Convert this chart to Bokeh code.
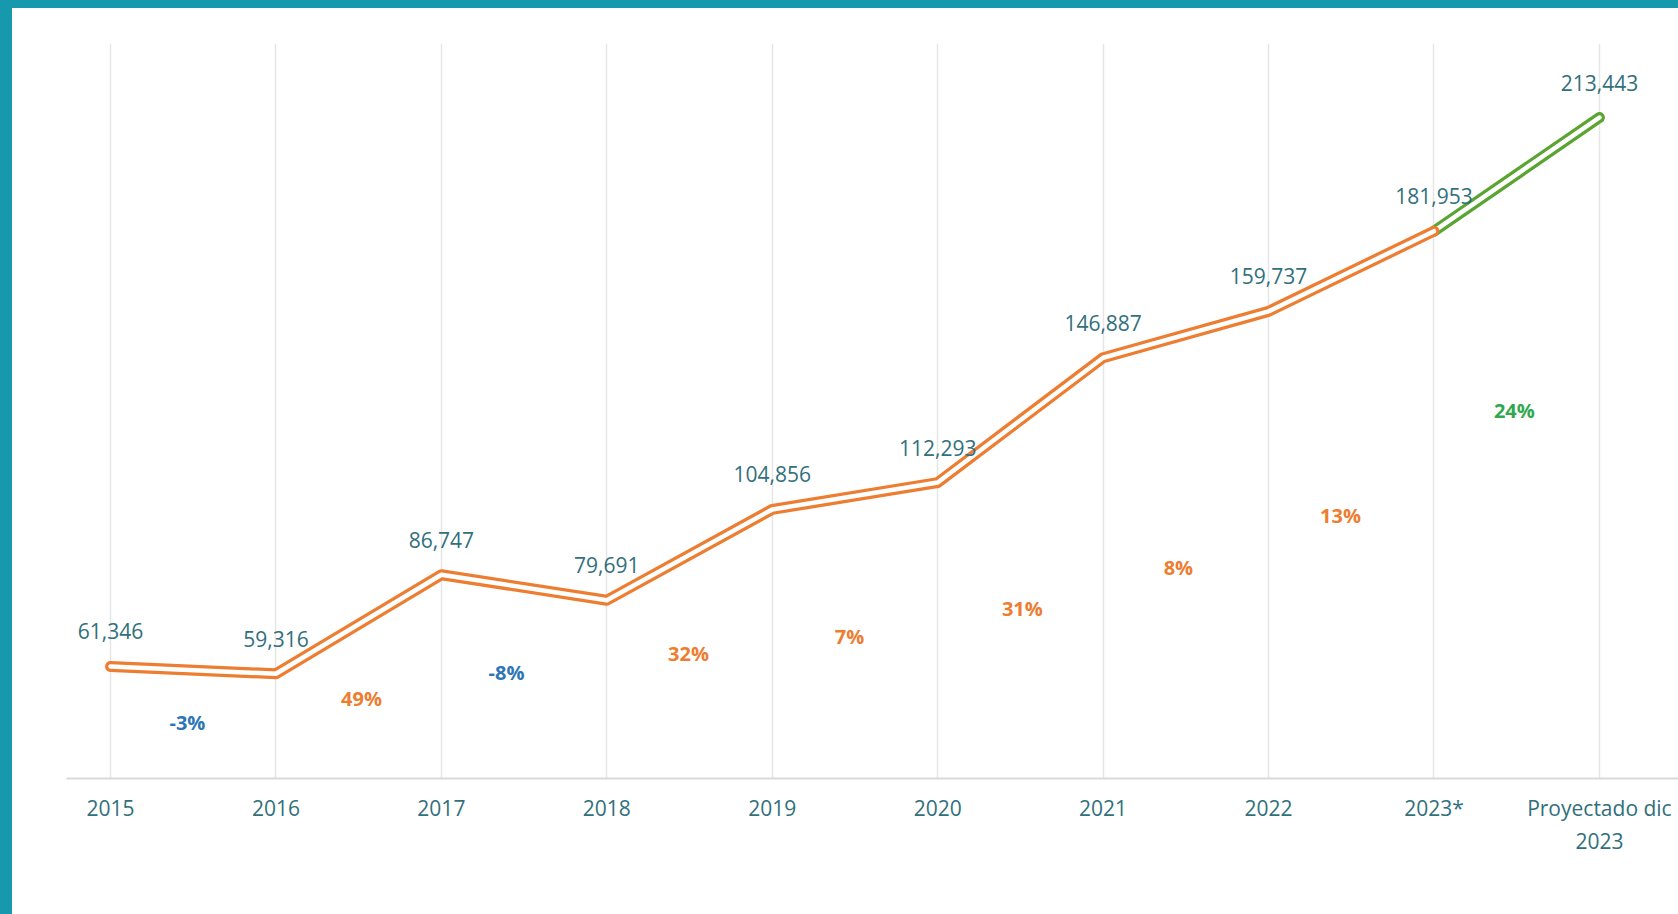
from bokeh.plotting import figure
from bokeh.models import ColumnDataSource, LabelSet, FixedTicker, Range1d, Div
from bokeh.layouts import column, row
from bokeh.core.properties import value
from bokeh.embed import file_html
from bokeh.resources import INLINE

# ---- data ----
categories = ["2015", "2016", "2017", "2018", "2019", "2020", "2021", "2022", "2023*", "Proyectado dic\n2023"]
values = [61346, 59316, 86747, 79691, 104856, 112293, 146887, 159737, 181953, 213443]
value_labels = ["61,346", "59,316", "86,747", "79,691", "104,856", "112,293", "146,887", "159,737", "181,953", "213,443"]

pct_labels = ["-3%", "49%", "-8%", "32%", "7%", "31%", "8%", "13%", "24%"]
pct_kind = ["neg", "pos", "neg", "pos", "pos", "pos", "pos", "pos", "proj"]
# label anchor positions (category index units, value units)
pct_pos_x = [0.465, 1.517, 2.394, 3.494, 4.467, 5.512, 6.455, 7.435, 8.486]
pct_pos_y = [45830, 52480, 59680, 64950, 69660, 77420, 88770, 103180, 132270]

# ---- styles ----
ORANGE = "#ED7D31"
GREEN = "#5AA532"
TEXT = "#31707C"
BLUE = "#2E75B6"
GREEN_TXT = "#2FA84F"
TEAL = "#1699AD"
FONT = "Open Sans"
kind_color = {"neg": BLUE, "pos": ORANGE, "proj": GREEN_TXT}

idx = list(range(len(categories)))
n_hist = 9  # points through 2023*

p = figure(width=1666, height=906, output_backend="svg", toolbar_location=None,
           x_range=Range1d(-0.266, 9.478), y_range=Range1d(30300, 233950),
           min_border_left=54, min_border_right=0, min_border_top=35, min_border_bottom=136)
p.outline_line_color = None
p.background_fill_color = "white"
p.border_fill_color = "white"

# axes
p.yaxis.visible = False
p.ygrid.grid_line_color = None
p.xaxis.ticker = FixedTicker(ticks=idx)
p.xaxis.major_label_overrides = {i: c for i, c in zip(idx, categories)}
p.xaxis.major_tick_line_color = None
p.xaxis.minor_tick_line_color = None
p.xaxis.axis_line_color = "#D9D9D9"
p.xaxis.axis_line_width = 2
p.xaxis.major_label_text_font = FONT
p.xaxis.major_label_text_font_size = "21px"
p.xaxis.major_label_text_color = TEXT
p.xaxis.major_label_standoff = 9
p.xgrid.ticker = FixedTicker(ticks=idx)
p.xgrid.grid_line_color = "#E6E6E6"
p.xgrid.grid_line_width = 1.5

# projected (green) segment, double line
gx = idx[n_hist - 1:]
gy = values[n_hist - 1:]
p.line(gx, gy, line_color=GREEN, line_width=11, line_cap="round", line_join="round")
p.line(gx, gy, line_color="white", line_width=4.5, line_cap="round", line_join="round")

# historic (orange) series, double line
hx = idx[:n_hist]
hy = values[:n_hist]
p.line(hx, hy, line_color=ORANGE, line_width=11, line_cap="round", line_join="round")
p.line(hx, hy, line_color="white", line_width=4.5, line_cap="round", line_join="round")

# value labels
src = ColumnDataSource(dict(x=idx, y=values, t=value_labels))
p.add_layout(LabelSet(x="x", y="y", text="t", source=src, y_offset=35,
                      text_align="center", text_baseline="middle",
                      text_font=value(FONT), text_font_size="21px", text_color=TEXT))

# percent change labels
psrc = ColumnDataSource(dict(x=pct_pos_x, y=pct_pos_y, t=pct_labels,
                             c=[kind_color[k] for k in pct_kind]))
p.add_layout(LabelSet(x="x", y="y", text="t", source=psrc,
                      text_align="center", text_baseline="middle",
                      text_font=value(FONT), text_font_size="20px", text_font_style="bold",
                      text_color="c"))

# teal frame bands (top and left) of the slide
top_band = Div(text="", width=1678, height=8, margin=0,
               styles={"background-color": TEAL})
left_band = Div(text="", width=12, height=906, margin=0,
                styles={"background-color": TEAL})
layout = column(top_band, row(left_band, p, spacing=0), spacing=0)

open("out.html", "w").write(file_html(layout, INLINE))
